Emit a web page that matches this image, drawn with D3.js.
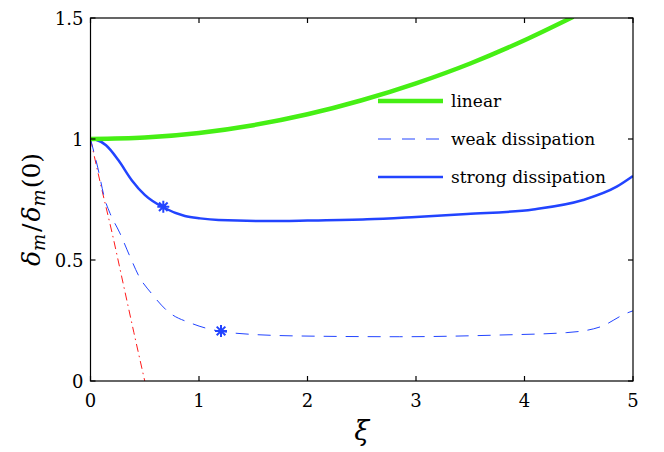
<!DOCTYPE html>
<html>
<head>
<meta charset="utf-8">
<script src="https://cdn.jsdelivr.net/npm/d3@7"></script>
<style>
  html, body { margin: 0; padding: 0; background: #fff; }
</style>
</head>
<body>
<div id="chart"></div>
<script>
/* delta_m / delta_m(0) versus xi */

const FONT = '"DejaVu Serif", "Liberation Serif", serif';

const X_TICKS = [0, 1, 2, 3, 4, 5];
const Y_TICKS = [0, 0.5, 1, 1.5];
const Y_TICK_LABELS = ['0', '0.5', '1', '1.5'];

// linear (green)
const linearXi = [0, 0.5, 1, 1.5, 2, 2.5, 3, 3.5, 4, 4.45];
const linearVal = [1, 1.006, 1.025, 1.057, 1.102, 1.16, 1.23, 1.312, 1.408, 1.505];

// weak dissipation (dashed blue)
const weakXi = [0, 0.066, 0.134, 0.18, 0.27, 0.364, 0.45, 0.56, 0.717, 0.932, 1.2, 1.35, 1.93, 2.85, 3.77, 4.39, 4.7, 4.94, 5.0];
const weakVal = [1, 0.884, 0.748, 0.693, 0.612, 0.514, 0.43, 0.363, 0.286, 0.238, 0.205, 0.197, 0.186, 0.183, 0.19, 0.2, 0.224, 0.28, 0.29];

// strong dissipation (solid blue)
const strongXi = [0, 0.05, 0.143, 0.256, 0.38, 0.5, 0.677, 0.87, 1.01, 1.18, 1.62, 2.0, 2.55, 3.0, 3.47, 4.08, 4.54, 4.85, 5.0];
const strongVal = [1, 0.997, 0.974, 0.913, 0.83, 0.769, 0.716, 0.682, 0.672, 0.665, 0.661, 0.663, 0.668, 0.678, 0.69, 0.709, 0.748, 0.803, 0.847];

// short-time asymptote (red dash-dot)
const asymXi = [0, 0.1, 0.2, 0.3, 0.4, 0.5, 0.53];
const asymVal = [1, 0.8, 0.61, 0.405, 0.2, 0, -0.06];

// star markers
const starXi = [0.671, 1.203];
const starVal = [0.72, 0.207];

const LEGEND = [
  { label: 'linear', color: '#46ef14', width: 4.5, dash: null },
  { label: 'weak dissipation', color: '#2244ff', width: 1, dash: '13,11' },
  { label: 'strong dissipation', color: '#2244ff', width: 2.5, dash: null },
];

/* ── Layout ───────────────────────────────────────────────────────── */

const W = 664, H = 452;
const margin = { left: 90.5, right: 31, top: 18, bottom: 71 };
const plotW = W - margin.left - margin.right;
const plotH = H - margin.top - margin.bottom;

const svg = d3.select('#chart').append('svg')
  .attr('width', W)
  .attr('height', H)
  .attr('font-family', FONT);

const x = d3.scaleLinear().domain([0, 5]).range([margin.left, margin.left + plotW]);
const y = d3.scaleLinear().domain([0, 1.5]).range([margin.top + plotH, margin.top]);

svg.append('defs').append('clipPath')
  .attr('id', 'plot-clip')
  .append('rect')
  .attr('x', margin.left)
  .attr('y', margin.top)
  .attr('width', plotW)
  .attr('height', plotH);

const zip = (xs, ys) => xs.map((d, i) => [d, ys[i]]);

const line = d3.line()
  .x(d => x(d[0]))
  .y(d => y(d[1]))
  .curve(d3.curveMonotoneX);

const plot = svg.append('g').attr('clip-path', 'url(#plot-clip)');

// Curves
plot.append('path')
  .attr('d', line(zip(asymXi, asymVal)))
  .attr('fill', 'none')
  .attr('stroke', '#ff1a1a')
  .attr('stroke-width', 1)
  .attr('stroke-dasharray', '8,4,1.5,4');

plot.append('path')
  .attr('d', line(zip(weakXi, weakVal)))
  .attr('fill', 'none')
  .attr('stroke', '#2244ff')
  .attr('stroke-width', 1)
  .attr('stroke-dasharray', '13,9');

plot.append('path')
  .attr('d', line(zip(strongXi, strongVal)))
  .attr('fill', 'none')
  .attr('stroke', '#2244ff')
  .attr('stroke-width', 2.5);

plot.append('path')
  .attr('d', line(zip(linearXi, linearVal)))
  .attr('fill', 'none')
  .attr('stroke', '#46ef14')
  .attr('stroke-width', 4.5);

// Star markers (plus + cross)
const s = 6, sd = s * 0.72;
const starPath = `M${-s},0L${s},0M0,${-s}L0,${s}M${-sd},${-sd}L${sd},${sd}M${-sd},${sd}L${sd},${-sd}`;
plot.append('g')
  .selectAll('path')
  .data(zip(starXi, starVal))
  .join('path')
  .attr('transform', d => `translate(${x(d[0])},${y(d[1])})`)
  .attr('d', starPath)
  .attr('stroke', '#2244ff')
  .attr('stroke-width', 2)
  .attr('fill', 'none');

/* ── Axes ─────────────────────────────────────────────────────────── */

const axisG = svg.append('g').attr('stroke', '#000').attr('stroke-width', 1.2);
const x0 = margin.left, x1 = margin.left + plotW;
const y0 = margin.top + plotH, y1 = margin.top;
const TL = 5;

axisG.append('rect')
  .attr('x', x0).attr('y', y1)
  .attr('width', plotW).attr('height', plotH)
  .attr('fill', 'none');

X_TICKS.forEach(t => {
  axisG.append('line').attr('x1', x(t)).attr('x2', x(t)).attr('y1', y0).attr('y2', y0 - TL);
  axisG.append('line').attr('x1', x(t)).attr('x2', x(t)).attr('y1', y1).attr('y2', y1 + TL);
});
Y_TICKS.forEach(t => {
  axisG.append('line').attr('x1', x0).attr('x2', x0 + TL).attr('y1', y(t)).attr('y2', y(t));
  axisG.append('line').attr('x1', x1).attr('x2', x1 - TL).attr('y1', y(t)).attr('y2', y(t));
});

svg.append('g')
  .selectAll('text')
  .data(X_TICKS)
  .join('text')
  .attr('x', d => x(d))
  .attr('y', y0 + 26)
  .attr('text-anchor', 'middle')
  .attr('font-size', 18)
  .text(d => d);

svg.append('g')
  .selectAll('text')
  .data(Y_TICKS)
  .join('text')
  .attr('x', x0 - 7)
  .attr('y', d => y(d) + 7)
  .attr('text-anchor', 'end')
  .attr('font-size', 18)
  .text((d, i) => Y_TICK_LABELS[i]);

// x label
svg.append('text')
  .attr('x', (x0 + x1) / 2)
  .attr('y', 440)
  .attr('text-anchor', 'middle')
  .attr('font-size', 27)
  .attr('font-style', 'italic')
  .text('ξ');

// y label: δ_m / δ_m(0)
const yl = svg.append('text')
  .attr('transform', `translate(40,${(y0 + y1) / 2 + 10}) rotate(-90)`)
  .attr('text-anchor', 'middle')
  .attr('font-size', 25);
yl.append('tspan').attr('font-style', 'italic').text('δ');
yl.append('tspan').attr('font-style', 'italic').attr('font-size', 18).attr('dy', 5).text('m');
yl.append('tspan').attr('dy', -5).attr('dx', 2).text('/');
yl.append('tspan').attr('font-style', 'italic').attr('dx', 2).text('δ');
yl.append('tspan').attr('font-style', 'italic').attr('font-size', 18).attr('dy', 5).text('m');
yl.append('tspan').attr('dy', -5).attr('dx', 1).text('(0)');

/* ── Legend ───────────────────────────────────────────────────────── */

const legend = svg.append('g');
const LEG_X0 = 378, LEG_X1 = 443, LEG_TX = 451;
const LEG_Y = [101, 139, 177];

LEGEND.forEach((item, i) => {
  legend.append('line')
    .attr('x1', LEG_X0).attr('x2', LEG_X1)
    .attr('y1', LEG_Y[i]).attr('y2', LEG_Y[i])
    .attr('stroke', item.color)
    .attr('stroke-width', item.width)
    .attr('stroke-dasharray', item.dash);
  legend.append('text')
    .attr('x', LEG_TX)
    .attr('y', LEG_Y[i] + 6)
    .attr('font-size', 17)
    .text(item.label);
});
</script>
</body>
</html>
